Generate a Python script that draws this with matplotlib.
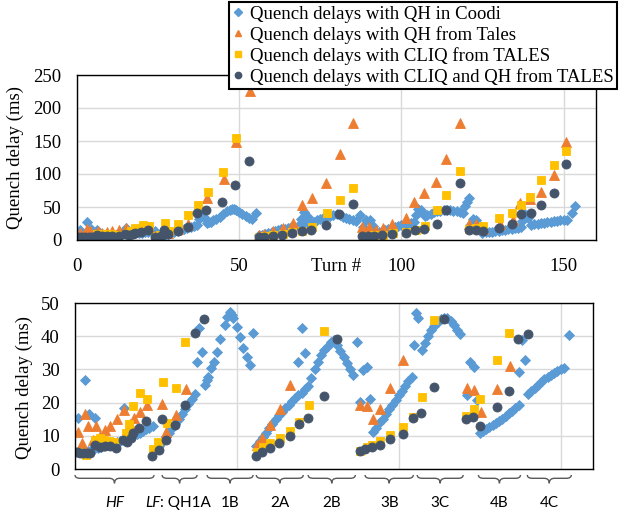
import matplotlib.pyplot as plt
from matplotlib.lines import Line2D
from matplotlib.path import Path
from matplotlib.patches import PathPatch
import matplotlib.transforms as mtransforms

BLUE = "#5B9BD5"
ORANGE = "#ED7D31"
YELLOW = "#FFC000"
NAVY = "#44546A"
SERIF = "Liberation Serif"

# Quench delays with QH in Coodi
coodi_turn = [
    0, 1, 2, 3, 4, 5, 6, 7, 8, 9, 10, 11, 12, 13, 14, 15, 16, 17, 18, 19, 20, 21, 22, 23, 24,
    0.9, 3.2, 4.2, 6.3, 15.0,
    25, 26, 27, 28, 29, 30, 31, 32, 33, 34, 35, 36, 37,
    37.6, 38.3, 39.2,
    40.2, 40.7, 41.2, 42.0, 43.0, 44.0, 44.9, 46.2, 47.1, 47.9, 48.4, 48.9, 50.0, 51.0, 52.0, 53.1, 54.1, 55.1,
    56, 57, 58, 59, 60, 61, 62, 63, 64, 65, 66, 67, 68, 69, 70, 71, 72, 73, 74, 75, 76, 77, 78, 79, 80,
    81, 82, 83, 84, 85, 86,
    69.0, 70.1, 71.1, 87.1, 88.1, 89.1, 90.2, 91.2,
    92, 93, 94, 95, 96, 97, 98, 99, 100, 101, 102, 103, 104,
    104.6, 105.2, 106.0, 107.2,
    108, 109, 110, 111, 112, 113, 114, 115, 116, 117, 118, 119,
    119.6, 120.2, 120.8,
    121.1, 122.1, 123.1, 124.2,
    125, 126, 127, 128, 129, 130, 131, 132, 133, 134, 135, 136, 137,
    137.2, 138.1, 139.1,
    140, 141, 142, 143, 144, 145, 146, 147, 148, 149, 150, 151,
    152.5, 153.4,
]
coodi_delay = [
    5.0, 5.0, 5.1, 5.2, 5.4, 5.6, 5.9, 6.2, 6.5, 6.8, 7.1, 7.4, 7.8, 8.1, 8.4, 8.8, 9.2, 9.6, 10.0, 10.4,
    10.9, 11.4, 11.9, 12.4, 12.9,
    15.3, 26.9, 16.7, 15.3, 18.3,
    6.0, 7.0, 8.2, 9.5, 10.8, 12.2, 13.6, 15.0, 16.5, 18.0, 19.6, 21.2, 22.6,
    32.3, 42.4, 35.3,
    25.3, 26.8, 27.8, 30.3, 32.3, 35.3, 39.3, 43.4, 45.9, 47.4, 46.4, 45.4, 42.9, 39.9, 36.3, 33.8, 31.3, 40.9,
    7.0, 8.3, 9.6, 10.9, 12.2, 13.6, 15.0, 16.2, 17.3, 18.4, 19.4, 20.4, 21.3, 22.2, 23.0, 24.0, 25.0, 27.5,
    30.0, 32.3, 34.3, 35.8, 37.0, 38.2, 38.9, 37.5, 35.6, 33.8, 31.8, 30.0, 28.3,
    32.3, 42.4, 34.8, 38.3, 20.3, 29.8, 30.8, 21.0,
    11.0, 12.4, 13.8, 15.2, 16.6, 18.0, 19.4, 20.8, 22.2, 23.6, 25.0, 26.4, 27.8,
    37.3, 47.0, 45.6, 35.8,
    38.0, 40.0, 41.8, 43.2, 44.4, 45.2, 45.6, 45.4, 44.6, 43.4, 42.0, 40.8,
    52.0, 57.0, 63.0,
    22.3, 32.3, 30.8, 20.8,
    10.8, 11.4, 12.0, 12.6, 13.2, 13.8, 14.5, 15.2, 16.0, 16.8, 17.6, 18.4, 19.2,
    29.3, 39.0, 32.8,
    22.6, 23.6, 24.5, 25.4, 26.2, 27.0, 27.7, 28.4, 29.0, 29.6, 30.0, 30.3,
    40.4, 52.0,
]

# Quench delays with QH from Tales
tales_qh_turn = [
    0.9, 2.2, 3.2, 4.0, 5.5, 6.5, 7.8, 9.4, 10.9, 13.0, 15.0, 17.1, 18.1, 20.2, 22.3,
    26.9, 28.2, 31.2, 34.3, 40.0, 45.2, 49.1, 53.2,
    56.2, 57.7, 60.3, 63.4, 66.5, 69.3, 72.3, 76.9, 81.0, 85.1,
    87.9, 90.1, 92.2, 94.3, 97.2, 101.3, 104.0, 106.9, 110.8, 113.9, 118.0,
    121.0, 123.1, 125.3, 130.4, 134.3, 136.7, 139.8, 142.9, 147.0, 150.9,
]
tales_qh_delay = [
    11.2, 7.7, 16.7, 13.0, 8.7, 13.0, 9.9, 11.7, 12.9, 15.2, 17.8, 13.5, 15.4, 17.3, 19.3,
    19.6, 11.2, 16.3, 24.0, 63.0, 93.0, 148.0, 226.0,
    7.2, 9.2, 13.2, 18.2, 25.2, 52.5, 63.0, 87.0, 130.0, 177.0,
    19.4, 19.0, 15.0, 18.2, 24.5, 32.7, 58.0, 71.0, 88.4, 122.0, 177.0,
    24.4, 23.9, 17.2, 24.0, 31.0, 56.0, 62.0, 73.2, 98.5, 148.0,
]

# Quench delays with CLIQ from TALES
cliq_turn = [
    1.1, 3.4, 6.3, 7.8, 9.1, 10.6, 12.2, 15.6, 16.6, 17.9, 20.2, 22.3,
    24.1, 25.7, 27.1, 28.4, 31.2, 34.1, 37.2, 40.5, 45.0, 49.1,
    56.2, 58.0, 60.3, 63.4, 66.3, 69.3, 72.3, 77.0, 81.0, 85.1,
    88.1, 90.2, 91.7, 94.3, 97.4, 101.3, 104.4, 107.2, 110.9, 113.9, 118.0,
    120.9, 123.1, 125.2, 130.2, 134.2, 136.9, 139.8, 142.9, 147.0, 150.9,
]
cliq_delay = [
    5.2, 4.2, 8.7, 9.2, 8.8, 8.5, 8.0, 10.7, 13.7, 18.9, 23.0, 21.0,
    6.0, 8.2, 26.3, 13.8, 24.3, 38.3, 53.0, 73.0, 103.5, 155.0,
    5.2, 6.5, 7.9, 9.4, 11.4, 14.3, 19.3, 41.6, 60.0, 79.5,
    5.5, 6.5, 7.3, 8.3, 10.2, 12.7, 15.7, 21.8, 44.8, 68.0, 104.0,
    16.0, 18.0, 21.0, 32.8, 41.1, 52.5, 65.5, 90.6, 113.3, 135.0,
]

# Quench delays with CLIQ and QH from TALES
cliq_qh_turn = [
    0.6, 1.6, 2.6, 3.6, 4.7, 6.1, 7.8, 9.4, 10.9, 12.8, 14.7, 16.1, 17.4, 17.9, 19.7, 22.0,
    23.9, 26.0, 26.9, 28.2, 31.0, 34.1, 37.0, 39.8, 44.6, 48.7, 52.9,
    56.0, 57.7, 60.3, 63.1, 66.3, 69.3, 72.1, 76.9, 80.9, 85.1,
    87.9, 89.6, 91.7, 94.1, 97.2, 101.3, 104.3, 107.0, 110.9, 113.9, 118.0,
    120.9, 123.0, 125.2, 130.2, 134.2, 136.9, 139.9, 142.9, 147.0, 150.9,
]
cliq_qh_delay = [
    5.1, 4.9, 4.8, 4.8, 4.7, 7.2, 6.7, 6.8, 6.8, 6.3, 8.7, 8.2, 9.2, 10.7, 12.5, 14.5,
    4.0, 5.8, 15.0, 8.8, 13.3, 19.4, 40.9, 45.2, 58.1, 83.3, 119.7,
    4.0, 5.2, 6.3, 7.7, 9.9, 13.7, 15.3, 22.0, 39.2, 54.0,
    5.5, 6.0, 6.5, 7.2, 8.9, 10.5, 15.4, 16.8, 24.8, 45.3, 86.5,
    15.0, 15.8, 13.0, 18.6, 23.5, 39.2, 40.8, 53.0, 71.7, 114.8,
]

labels = [
    "Quench delays with QH in Coodi",
    "Quench delays with QH from Tales",
    "Quench delays with CLIQ from TALES",
    "Quench delays with CLIQ and QH from TALES",
]

# magnet segments shown under the lower panel (turn ranges)
segment_names = ["1B", "2A", "2B", "3B", "3C", "4B", "4C"]
segment_start = [40.8, 56.0, 72.0, 89.6, 105.7, 124.6, 139.7]
segment_end = [55.0, 70.5, 86.6, 104.5, 119.9, 137.6, 153.3]
hf_span = [0.0, 24.4]
qh1a_span = [26.9, 37.7]

series = [
    (coodi_turn, coodi_delay, "D", BLUE, 5.4),
    (tales_qh_turn, tales_qh_delay, "^", ORANGE, 6.8),
    (cliq_turn, cliq_delay, "s", YELLOW, 6.3),
    (cliq_qh_turn, cliq_qh_delay, "o", NAVY, 6.5),
]

fig = plt.figure(figsize=(6.19, 5.12), dpi=100)
ax1 = fig.add_axes([77 / 619, 1 - 240 / 512, 519 / 619, 165 / 512])
ax2 = fig.add_axes([75 / 619, 1 - 469 / 512, 518 / 619, 166 / 512])

for ax in (ax1, ax2):
    for turns, delays, marker, color, size in series:
        ax.plot(turns, delays, linestyle="none", marker=marker, ms=size,
                color=color, mec=color, mew=0.6)
    ax.set_xlim(0, 160)
    ax.set_xticks([0, 50, 100, 150])
    ax.grid(True, color="#d9d9d9", lw=1)
    ax.set_axisbelow(True)
    for sp in ax.spines.values():
        sp.set_color("black")
        sp.set_linewidth(1)
    ax.tick_params(length=0, labelsize=13.5)
    for t in ax.get_xticklabels() + ax.get_yticklabels():
        t.set_fontfamily(SERIF)
    ax.set_ylabel("Quench delay (ms)", fontsize=13.5, fontfamily=SERIF)

ax1.set_ylim(0, 250)
ax1.set_yticks([0, 50, 100, 150, 200, 250])
ax1.tick_params(axis="x", pad=13)
ax1.tick_params(axis="y", pad=11)
ax1.yaxis.set_label_coords(-0.102, 0.5)
trans1 = mtransforms.blended_transform_factory(ax1.transData, ax1.transAxes)
ax1.text(80, -0.158, "Turn #", transform=trans1, ha="center", va="center",
         fontsize=13.5, fontfamily=SERIF)

ax2.set_ylim(0, 50)
ax2.set_yticks([0, 10, 20, 30, 40, 50])
ax2.tick_params(axis="x", labelbottom=False)
ax2.tick_params(axis="y", pad=11)
ax2.yaxis.set_label_coords(-0.081, 0.49)

# curly braces under the lower panel
trans2 = mtransforms.blended_transform_factory(ax2.transData, ax2.transAxes)


def brace(x0, x1, ax, r=1.6):
    ytop, ymid, ybot = -0.036, -0.056, -0.086
    xc = (x0 + x1) / 2
    verts = [(x0, ytop), (x0, ymid), (x0 + r, ymid),
             (xc - r, ymid), (xc, ymid), (xc, ybot),
             (xc, ymid), (xc + r, ymid),
             (x1 - r, ymid), (x1, ymid), (x1, ytop)]
    codes = [Path.MOVETO, Path.CURVE3, Path.CURVE3,
             Path.LINETO, Path.CURVE3, Path.CURVE3,
             Path.CURVE3, Path.CURVE3,
             Path.LINETO, Path.CURVE3, Path.CURVE3]
    ax.add_patch(PathPatch(Path(verts, codes), fc="none", ec="#595959", lw=1.0,
                           transform=trans2, clip_on=False))


label_y = -0.205
brace(hf_span[0], hf_span[1], ax2)
ax2.text(12.4, label_y, "HF", style="italic", transform=trans2, ha="center", va="center",
         fontsize=11, fontfamily="Lato")
brace(qh1a_span[0], qh1a_span[1], ax2)
ax2.text(26.3, label_y, "LF", style="italic", transform=trans2, ha="right", va="center",
         fontsize=11, fontfamily="Lato")
ax2.text(26.3, label_y, ": QH1A", transform=trans2, ha="left", va="center",
         fontsize=11, fontfamily="Lato")
for name, s, e in zip(segment_names, segment_start, segment_end):
    brace(s, e, ax2)
    ax2.text((s + e) / 2, label_y, name, transform=trans2, ha="center", va="center",
             fontsize=11, fontfamily="Lato")

handles = [Line2D([], [], linestyle="none", marker=m, color=c, mec=c, ms=sz * 0.7)
           for _, _, m, c, sz in series]
leg = fig.legend(handles, labels, loc="upper right", bbox_to_anchor=(617 / 619, 1 - 2 / 512),
                 prop={"family": SERIF, "size": 13.5}, frameon=True, fancybox=False,
                 framealpha=1, edgecolor="black", borderpad=0.2, labelspacing=0.16,
                 handlelength=0.6, handletextpad=0.3, borderaxespad=0)
leg.get_frame().set_linewidth(1.5)

fig.savefig("out.png", dpi=100)
